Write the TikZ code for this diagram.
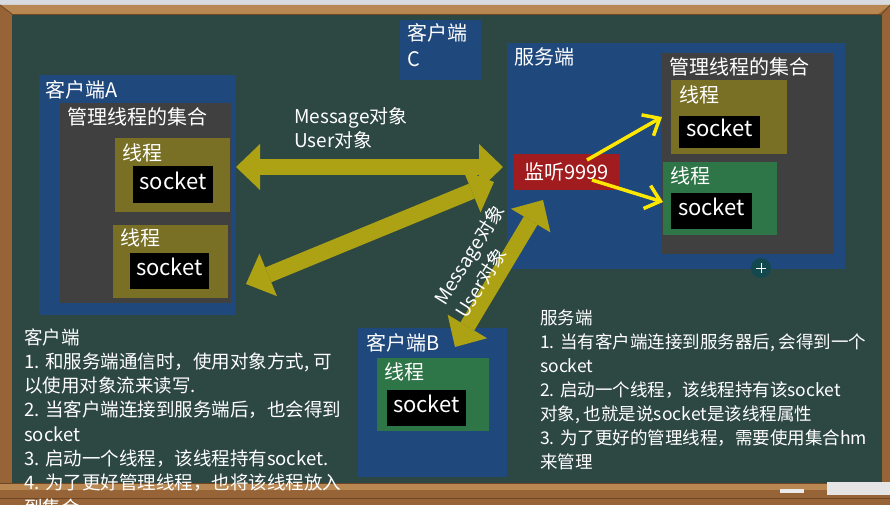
\documentclass[tikz,border=0pt]{standalone}
\usepackage{fontspec}
\setmainfont{Noto Sans CJK SC}
\usetikzlibrary{arrows.meta,calc}
\definecolor{board}{RGB}{45,71,66}
\definecolor{wood}{RGB}{150,100,55}
\definecolor{woodlight}{RGB}{185,135,82}
\definecolor{wooddark}{RGB}{110,70,35}
\definecolor{topgrey}{RGB}{215,219,224}
\definecolor{boxblue}{RGB}{31,72,125}
\definecolor{setgrey}{RGB}{64,64,64}
\definecolor{olive}{RGB}{121,112,38}
\definecolor{thgreen}{RGB}{46,117,72}
\definecolor{listenred}{RGB}{160,28,30}
\definecolor{bigarrow}{RGB}{173,162,20}
\definecolor{yel}{RGB}{255,232,0}
\definecolor{icon}{RGB}{18,72,78}
\tikzset{
  zone/.style n args={2}{anchor=north west, inner sep=0pt, outer sep=0pt,
    minimum width=#1pt, minimum height=#2pt},
  lbl/.style={anchor=base west, inner sep=0pt, text=white,
    font=\fontsize{20}{24}\selectfont},
  sock/.style n args={2}{zone={#1}{#2}, fill=black, text=white,
    text height=15pt, text depth=6pt, font=\fontsize{22}{24}\selectfont},
  bigarr/.style={draw=bigarrow, line width=16pt,
    >={Triangle[length=24pt,width=46pt,line width=0pt]}, <->},
  yarr/.style={draw=yel, line width=3.5pt,
    >={Straight Barb[length=14pt,width=24pt]}, ->},
  msg/.style={anchor=base west, inner sep=0pt, text=white,
    font=\fontsize{19}{22}\selectfont},
  noteL/.style={anchor=base west, inner sep=0pt, text=white,
    font=\fontsize{18.5}{22}\selectfont},
  noteR/.style={anchor=base west, inner sep=0pt, text=white,
    font=\fontsize{17.5}{22}\selectfont},
}
\begin{document}
\begin{tikzpicture}[x=1pt,y=-1pt]
\useasboundingbox (0,0) rectangle (890,505);
\clip (0,0) rectangle (890,505);
% ---- board and frame
\fill[topgrey] (0,0) rectangle (890,6);
\fill[wood] (0,5) rectangle (890,505);
\fill[woodlight] (0,5) -- (890,5) -- (878,14) -- (12,14) -- cycle;
\fill[board] (12,14) rectangle (882,483);
\draw[wooddark, line width=0.8pt] (0,5) -- (12,14) (890,5) -- (882,14);
\draw[wooddark, line width=0.8pt] (12,14) -- (882,14);
\fill[woodlight] (0,483) rectangle (890,490);
\draw[wooddark, line width=1pt] (0,483) -- (890,483);
\draw[wooddark, line width=1pt] (0,498) -- (890,498);
\node[zone={24}{4}, fill=white!92!black] (chalk) at (780,489) {};
\node[zone={63}{13}, fill=white!90!black] (eraser) at (827,482) {};
% ---- client A
\node[zone={197}{240}, fill=boxblue] (cliA) at (39,75) {};
\node[lbl] (cliAlbl) at (45,97.5) {客户端A};
\node[zone={171}{200}, fill=setgrey] (setA) at (60,103) {};
\node[lbl] (setAlbl) at (67,124.5) {管理线程的集合};
\node[zone={115}{74}, fill=olive] (thA1) at (115,138) {};
\node[lbl] (thA1lbl) at (122,160.5) {线程};
\node[sock={80}{37}] (skA1) at (133,166) {socket};
\node[zone={115}{73}, fill=olive] (thA2) at (113,225) {};
\node[lbl] (thA2lbl) at (120,245.5) {线程};
\node[sock={79}{36}] (skA2) at (130,253) {socket};
% ---- client C
\node[zone={81}{60}, fill=boxblue] (cliC) at (400,20) {};
\node[lbl] (cliClbl) at (407,40.5) {客户端};
\node[lbl] (cliClbl2) at (407,67) {C};
% ---- server
\node[zone={338}{226}, fill=boxblue] (srv) at (507,43) {};
\node[lbl] (srvlbl) at (514,64.5) {服务端};
\node[zone={171}{201}, fill=setgrey] (setS) at (662,53) {};
\node[lbl] (setSlbl) at (669,74.5) {管理线程的集合};
\node[zone={116}{74}, fill=olive] (thS1) at (671,80) {};
\node[lbl] (thS1lbl) at (679,102.5) {线程};
\node[sock={81}{32}] (skS1) at (679,116) {socket};
\node[zone={114}{73}, fill=thgreen] (thS2) at (663,162) {};
\node[lbl] (thS2lbl) at (670,183.5) {线程};
\node[sock={81}{36}] (skS2) at (671,193) {socket};
\node[zone={107}{36}, fill=listenred, text=white,
      font=\fontsize{20}{24}\selectfont] (listen) at (513,154) {监听9999};
% ---- client B
\node[zone={149}{149}, fill=boxblue] (cliB) at (358,328) {};
\node[lbl] (cliBlbl) at (366,350.5) {客户端B};
\node[zone={112}{73}, fill=thgreen] (thB) at (377,358) {};
\node[lbl] (thBlbl) at (384,379.5) {线程};
\node[sock={79}{36}] (skB) at (387,390) {socket};
% ---- big double arrows
\coordinate (h1) at (236,167); \coordinate (h2) at (503,167);
\coordinate (d1) at (246,284); \coordinate (d2) at (494,182);
\coordinate (v1) at (455,347); \coordinate (v2) at (543,200);
\draw[bigarr] (h1) -- (h2);
\draw[bigarr] (d1) -- (d2);
\draw[bigarr] (v1) -- (v2);
\node[msg] (m1) at (294,124) {Message对象};
\node[msg] (m2) at (294,148) {User对象};
\node[msg, rotate=58] (m3) at (445,307) {Message对象};
\node[msg, rotate=58] (m4) at (466,320) {User对象};
% ---- yellow arrows
\coordinate (ya0) at (587,160); \coordinate (ya1) at (662,117);
\coordinate (yb0) at (592,180); \coordinate (yb1) at (663,202);
\draw[yarr] (ya0) -- (ya1);
\draw[yarr] (yb0) -- (yb1);
% ---- move icon
\node[circle, fill=icon, minimum size=20pt, inner sep=0pt] (mv) at (761,268) {};
\draw[white, line width=0.7pt] ($(mv.center)+(-5,0)$) -- ($(mv.center)+(5,0)$);
\draw[white, line width=0.7pt] ($(mv.center)+(0,-5)$) -- ($(mv.center)+(0,5)$);
% ---- notes left
\node[noteL] (tl1) at (24,344) {客户端};
\node[noteL] (tl2) at (24,368.3) {1. 和服务端通信时，使用对象方式, 可};
\node[noteL] (tl3) at (24,392.6) {以使用对象流来读写.};
\node[noteL] (tl4) at (24,416.9) {2. 当客户端连接到服务端后，也会得到};
\node[noteL] (tl5) at (24,441.2) {socket};
\node[noteL] (tl6) at (24,465.5) {3. 启动一个线程，该线程持有socket.};
\node[noteL] (tl7) at (24,489.8) {4. 为了更好管理线程，也将该线程放入};
\node[noteL] (tl8) at (24,514.1) {到集合};
% ---- notes right
\node[noteR] (tr1) at (540,324) {服务端};
\node[noteR] (tr2) at (540,348.1) {1. 当有客户端连接到服务器后, 会得到一个};
\node[noteR] (tr3) at (540,372.2) {socket};
\node[noteR] (tr4) at (540,396.3) {2. 启动一个线程，该线程持有该socket};
\node[noteR] (tr5) at (540,420.4) {对象, 也就是说socket是该线程属性};
\node[noteR] (tr6) at (540,444.5) {3. 为了更好的管理线程，需要使用集合hm};
\node[noteR] (tr7) at (540,468.6) {来管理};
\end{tikzpicture}
\end{document}
